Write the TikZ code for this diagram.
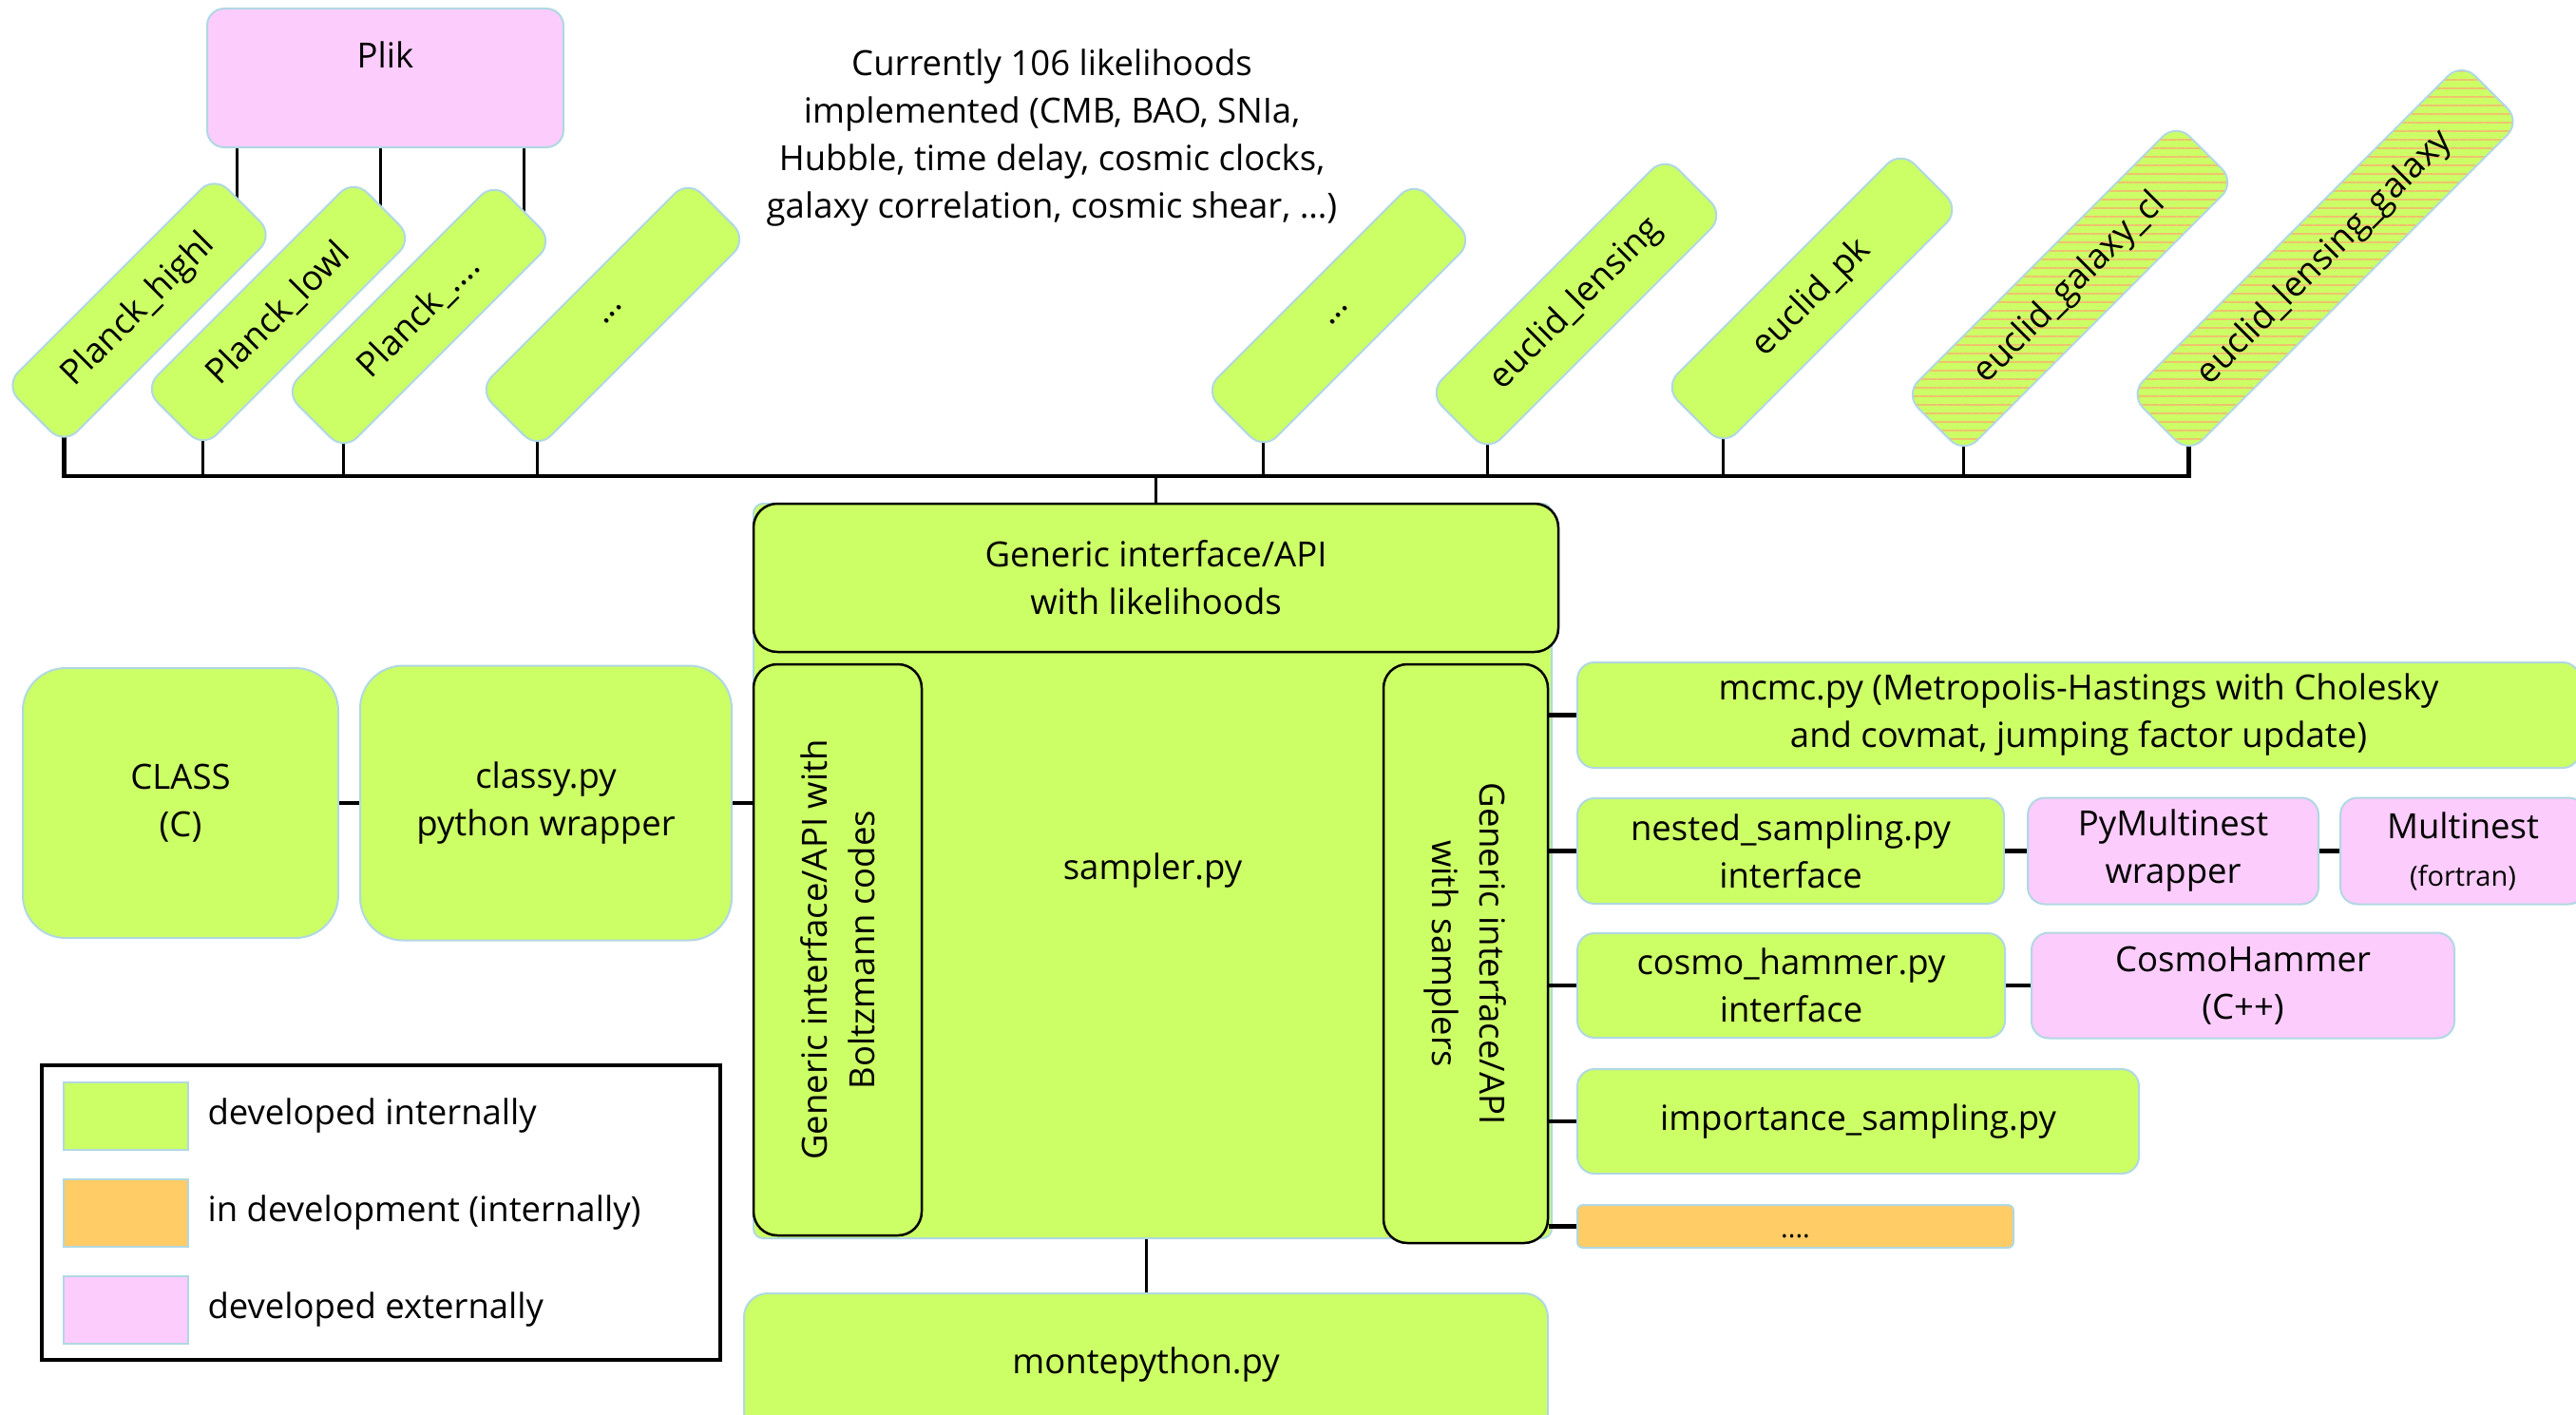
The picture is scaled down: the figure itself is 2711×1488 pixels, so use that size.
\documentclass[tikz,border=0pt]{standalone}
\usepackage{fontspec}
\setmainfont{Open Sans}
\usepackage{tikz}
\usetikzlibrary{positioning, patterns.meta, backgrounds}

\definecolor{devgreen}{RGB}{204,255,102}
\definecolor{extpink}{RGB}{252,204,252}
\definecolor{devorange}{RGB}{255,204,102}
\definecolor{edgeblue}{RGB}{176,216,226}
\definecolor{stripeorange}{RGB}{240,192,110}

\newcommand{\mfont}{\fontsize{36.5}{50}\selectfont}
\newcommand{\sfont}{\fontsize{29}{36}\selectfont}

\begin{document}
\begin{tikzpicture}[x=1pt, y=-1pt,
    gbox/.style={rectangle, draw=edgeblue, line width=2pt, fill=devgreen, rounded corners=18pt, align=center, inner sep=0pt, font=\mfont},
    pbox/.style={gbox, fill=extpink},
    obox/.style={gbox, fill=devorange, rounded corners=6pt},
    tilt/.style={gbox, rotate=45, minimum height=88pt, rounded corners=20pt},
    striped/.style={preaction={fill=devgreen}, pattern={Lines[angle=0, distance=9pt, line width=2.5pt]}, pattern color=stripeorange},
    api/.style={rectangle, draw=black, line width=2.5pt, fill=devgreen, rounded corners=25pt, align=center, inner sep=0pt, font=\mfont},
    swatch/.style={rectangle, draw=edgeblue, line width=2pt, minimum width=131pt, minimum height=71pt},
    link/.style={line width=4.5pt},
    stub/.style={line width=3pt},
    bus/.style={line width=4.5pt}
]
\useasboundingbox (0,0) rectangle (2711,1488);
\clip (0,0) rectangle (2711,1488);

% likelihoods
\node[pbox, minimum width=375pt, minimum height=146pt, text depth=48pt] (plik) at (405.5,82) {Plik};
\node[font=\mfont, align=center] (note) at (1107,145) {Currently 106 likelihoods\\implemented (CMB, BAO, SNIa,\\Hubble, time delay, cosmic clocks,\\galaxy correlation, cosmic shear, \ldots)};

\node[tilt, minimum width=312pt] (planckhigh) at (146.5,326.5) {Planck\_highl};
\node[tilt, minimum width=312pt] (plancklow) at (293,330) {Planck\_lowl};
\node[tilt, minimum width=312pt] (planckmore) at (441,333) {Planck\_....};
\node[tilt, minimum width=312pt] (likmoreA) at (645,331) {...};
\node[tilt, minimum width=312pt] (likmoreB) at (1409,332) {...};
\node[tilt, minimum width=352pt] (eulens) at (1659,320) {euclid\_lensing};
\node[tilt, minimum width=352pt] (eupk) at (1907,314) {euclid\_pk};
\node[tilt, striped, minimum width=404pt] (eugal) at (2178.5,303.5) {euclid\_galaxy\_cl};
\node[tilt, striped, minimum width=494pt] (eulensgal) at (2447,271.5) {euclid\_lensing\_galaxy};

\coordinate (bus) at (0,501);

\begin{scope}[on background layer]
  \foreach \dx in {32,183,334}
    \draw[stub] (plik.south west) ++(\dx,0) -- ++(0,100);
  \foreach \n in {plancklow, planckmore, likmoreA, likmoreB, eulens, eupk, eugal}
    \draw[stub] (\n.south west) ++(0,-20) -- (\n.south west |- bus);
  \draw[bus] (planckhigh.south west) ++(0,-20) |- (bus -| eulensgal.south west) -- ++(0,-40);
\end{scope}

% sampler core
\node[gbox, rounded corners=10pt, minimum width=840pt, minimum height=773pt] (samp) at (1213,916.5) {sampler.py};
\node[api, minimum width=847pt, minimum height=156pt] (lik) at (1216.5,608) {Generic interface/API\\with likelihoods};
\node[api, rotate=90, minimum width=601pt, minimum height=177pt] (boltz) at (881.5,999.5) {Generic interface/API with\\Boltzmann codes};
\node[api, rotate=-90, minimum width=609pt, minimum height=173pt] (sampif) at (1542.5,1003.5) {Generic interface/API\\with samplers};
\node[gbox, rounded corners=25pt, minimum width=846pt, minimum height=150pt] (monte) at (1206,1436) {montepython.py};

\draw[stub] (bus -| lik.north) -- (lik.north);
\draw[stub] (monte.north |- samp.south) -- (monte.north);

% Boltzmann side
\node[gbox, rounded corners=45pt, minimum width=332pt, minimum height=284pt] (class) at (190,845) {CLASS\\(C)};
\node[gbox, rounded corners=45pt, minimum width=391pt, minimum height=289pt, right=21pt of class] (classy) {classy.py\\python wrapper};

\draw[link] (class) -- (classy);
\draw[link] (classy.east) -- (classy.east -| boltz.north);

% samplers
\node[gbox, minimum width=1055pt, minimum height=111pt] (mcmc) at (2187.5,752.5) {mcmc.py (Metropolis-Hastings with Cholesky\\and covmat, jumping factor update)};
\node[gbox, minimum width=449pt, minimum height=111pt, below=30pt of mcmc.south west, anchor=north west] (nested) {nested\_sampling.py\\interface};
\node[pbox, minimum width=306pt, minimum height=112pt, right=23pt of nested] (pymn) {PyMultinest\\wrapper};
\node[pbox, minimum width=258pt, minimum height=112pt, right=21pt of pymn] (mn) {Multinest\\{\sfont (fortran)}};
\node[gbox, minimum width=450pt, minimum height=110pt, below=29pt of nested.south west, anchor=north west] (cosmo) {cosmo\_hammer.py\\interface};
\node[pbox, minimum width=445pt, minimum height=111pt, right=26pt of cosmo] (hammer) {CosmoHammer\\(C++)};
\node[gbox, minimum width=591pt, minimum height=110pt, below=31pt of cosmo.south west, anchor=north west] (imp) {importance\_sampling.py};
\node[obox, minimum width=459pt, minimum height=45pt, text height=24pt, font=\sfont, below=31pt of imp.south west, anchor=north west] (more) {....};

\foreach \n in {mcmc, nested, cosmo, imp, more}
  \draw[link] (\n.west -| sampif.north) -- (\n.west);
\draw[link] (nested) -- (pymn);
\draw[link] (pymn) -- (mn);
\draw[link] (cosmo) -- (hammer);

% legend
\node[draw, line width=4pt, minimum width=714pt, minimum height=310pt, inner sep=0pt] (legend) at (401,1276) {};
\node[swatch, fill=devgreen] (swint) at (132.5,1174.5) {};
\node[swatch, fill=devorange, below=29pt of swint] (swdev) {};
\node[swatch, fill=extpink, below=29pt of swdev] (swext) {};
\node[font=\mfont, right=16pt of swint] (lgint) {developed internally};
\node[font=\mfont, right=16pt of swdev] (lgdev) {in development (internally)};
\node[font=\mfont, right=16pt of swext] (lgext) {developed externally};

\end{tikzpicture}
\end{document}
